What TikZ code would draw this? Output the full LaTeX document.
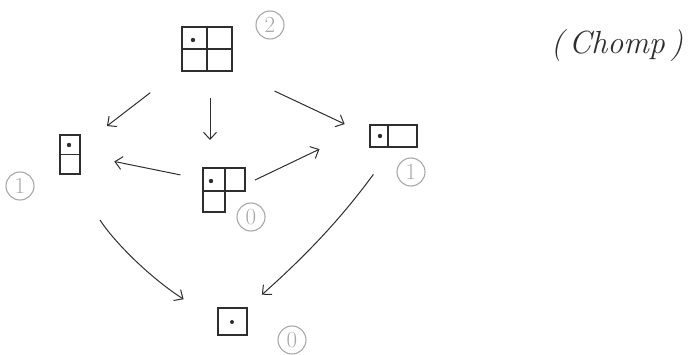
\documentclass[tikz,border=0pt]{standalone}
\usetikzlibrary{arrows.meta}
\definecolor{ink}{HTML}{2E2E2E}
\definecolor{grayc}{HTML}{A8A8A8}
\begin{document}
\begin{tikzpicture}[x=1pt,y=-1pt,
  board/.style={draw=ink, line width=1.6pt, inner sep=0pt, outer sep=0pt},
  arr/.style={draw=ink, line width=1pt, -{Straight Barb[length=7pt,width=13pt]}},
  lab/.style={circle, draw=grayc, line width=1.1pt, text=grayc, minimum size=28pt, inner sep=0pt, font=\fontsize{23}{24}\selectfont},
  dotc/.style={fill=ink}]
\useasboundingbox (0,0) rectangle (695,355);
% boards
\node[board, minimum width=50pt, minimum height=44pt] (top) at (207,49) {};
\draw[board] (top.north) -- (top.south) (top.west) -- (top.east);
\fill[dotc] (193,40) circle (2.2pt);

\node[board, minimum width=20pt, minimum height=39pt] (left) at (70,154.5) {};
\draw[board] (left.west) -- (left.east);
\fill[dotc] (69,145) circle (2.2pt);

\node[board, minimum width=47pt, minimum height=22pt] (right) at (393.5,136) {};
\draw[board] ([xshift=-5.5pt]right.north) -- ([xshift=-5.5pt]right.south);
\fill[dotc] (380,136) circle (2.2pt);

\node[board, minimum width=22pt, minimum height=23pt] (mid) at (214,179.5) {};
\node[board, minimum width=20pt, minimum height=23pt] (midr) at (235,179.5) {};
\node[board, minimum width=22pt, minimum height=21pt] (midb) at (214,201.5) {};
\fill[dotc] (211,181) circle (2.2pt);

\node[board, minimum width=29pt, minimum height=27pt] (bot) at (232.5,321.5) {};
\fill[dotc] (232,322) circle (2pt);

% values
\node[lab] (v2) at (270,25) {2};
\node[lab] (v1l) at (20,186) {1};
\node[lab] (v0m) at (251,217) {0};
\node[lab] (v1r) at (411,172) {1};
\node[lab] (v0b) at (292,340) {0};

% title
\node[font=\fontsize{32}{34}\selectfont\itshape, text=ink] (title) at (617,46) {(\,Chomp\,)};

% moves
\draw[arr, shorten <=40pt, shorten >=34pt] (top) -- (left);
\draw[arr, shorten <=27pt, shorten >=28pt] ([xshift=3pt]top.south) -- ([xshift=-4pt]mid.north);
\draw[arr, shorten <=47pt, shorten >=28pt] (top.south east) -- (right.west);
\draw[arr, shorten <=23pt, shorten >=35pt] (mid.west) -- (left.east);
\draw[arr, shorten <=11pt, shorten >=56pt] (midr.-28) -- (right.north west);
\draw[arr, shorten <=55pt, shorten >=41pt] (left.south) to[bend right=12] (bot.west);
\draw[arr, shorten <=34pt, shorten >=20pt] (right.south) to[bend left=6] (bot.north east);
\end{tikzpicture}
\end{document}
